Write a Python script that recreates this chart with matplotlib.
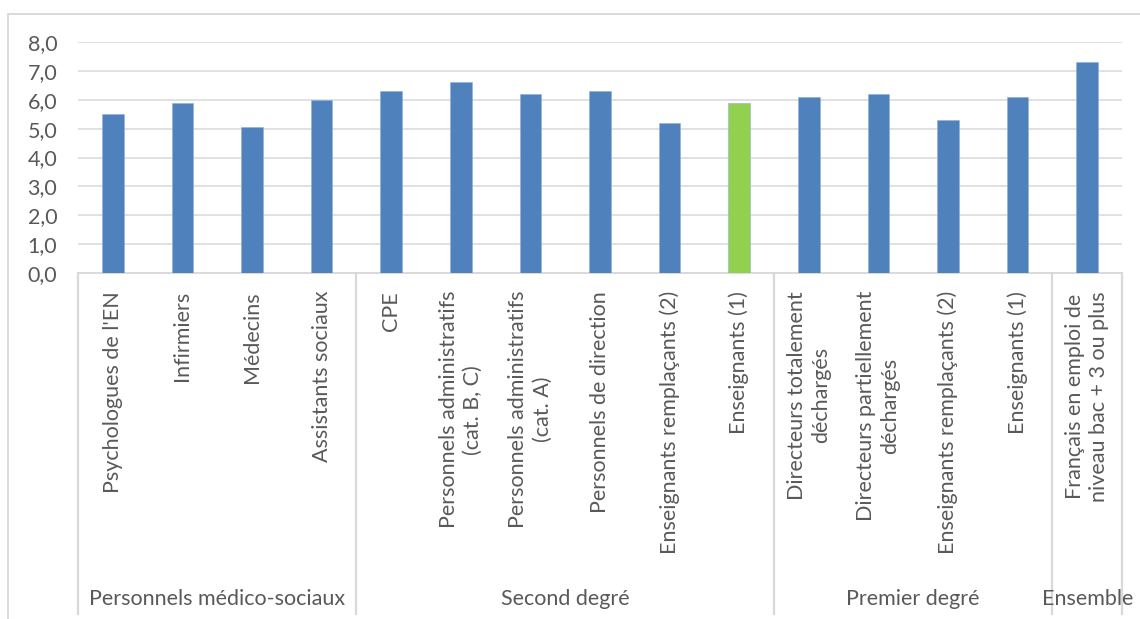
import matplotlib
matplotlib.use("Agg")
import matplotlib.pyplot as plt
from matplotlib.lines import Line2D
import matplotlib.transforms as mtransforms

plt.rcParams['font.family'] = ['Lato', 'DejaVu Sans']

categories = [
    "Psychologues de l'EN", "Infirmiers", "Médecins", "Assistants sociaux",
    "CPE", "Personnels administratifs\n(cat. B, C)", "Personnels administratifs\n(cat. A)",
    "Personnels de direction", "Enseignants remplaçants (2)", "Enseignants (1)",
    "Directeurs totalement\ndéchargés", "Directeurs partiellement\ndéchargés",
    "Enseignants remplaçants (2)", "Enseignants (1)",
    "Français en emploi de\nniveau bac + 3 ou plus",
]
values = [5.5, 5.9, 5.05, 6.0, 6.3, 6.6, 6.2, 6.3, 5.2, 5.9, 6.1, 6.2, 5.3, 6.1, 7.3]
groups = ["Personnels médico-sociaux", "Second degré", "Premier degré", "Ensemble"]
group_sizes = [4, 6, 4, 1]
highlight_index = 9
yticks = [0, 1, 2, 3, 4, 5, 6, 7, 8]

W, H = 1140, 619
BLUE = '#4F81BD'
GREEN = '#92D050'
GRID = '#D9D9D9'
TXT = '#595959'
FS = 15.5

fig = plt.figure(figsize=(W / 100, H / 100), dpi=100)
ax_left, ax_right, ax_top, ax_bot = 78, 1122, 42, 273
ax = fig.add_axes([ax_left / W, 1 - ax_bot / H, (ax_right - ax_left) / W, (ax_bot - ax_top) / H])

x = [i + 0.5 for i in range(len(values))]
colors = [GREEN if i == highlight_index else BLUE for i in range(len(values))]
ax.bar(x, values, width=0.31, color=colors, edgecolor='#8DAFD9', linewidth=0.4, zorder=3)

ax.set_xlim(0, len(values))
ax.set_ylim(0, 8)
ax.set_yticks(yticks)
ax.set_yticklabels([f"{v:.1f}".replace('.', ',') for v in yticks], color=TXT, fontsize=FS)
ax.tick_params(axis='y', length=0, pad=15)
ax.set_xticks([])
for s in ax.spines.values():
    s.set_visible(False)
for v in yticks[1:]:
    ax.axhline(v, color=GRID, lw=1.1, zorder=1)

# blended transform: x in data, y in figure pixels from top
trans = mtransforms.blended_transform_factory(ax.transData, fig.transFigure)
def fy(py):
    return 1 - py / H

# baseline
ax.add_line(Line2D([0, len(values)], [fy(ax_bot), fy(ax_bot)], transform=trans,
                   color=GRID, lw=1.4, clip_on=False, zorder=2))

# category labels
for xi, lab in zip(x, categories):
    ax.text(xi, fy(291), lab, transform=trans, rotation=90, ha='center', va='top',
            multialignment='center', color=TXT, fontsize=FS, linespacing=1.25)

# separators and group labels
bounds = [0]
for g in group_sizes:
    bounds.append(bounds[-1] + g)
for b in bounds:
    ax.add_line(Line2D([b, b], [fy(ax_bot), fy(614)], transform=trans,
                       color=GRID, lw=1.6, clip_on=False, zorder=2))
for g, a, b in zip(groups, bounds[:-1], bounds[1:]):
    ax.text((a + b) / 2, fy(605), g, transform=trans, ha='center', va='baseline',
            color=TXT, fontsize=FS)

# outer frame lines
fig.add_artist(Line2D([8 / W, 8 / W], [0, fy(14)], transform=fig.transFigure, color=GRID, lw=1.4))
fig.add_artist(Line2D([8 / W, 1], [fy(14), fy(14)], transform=fig.transFigure, color=GRID, lw=1.4))

fig.savefig('out.png', dpi=100)
